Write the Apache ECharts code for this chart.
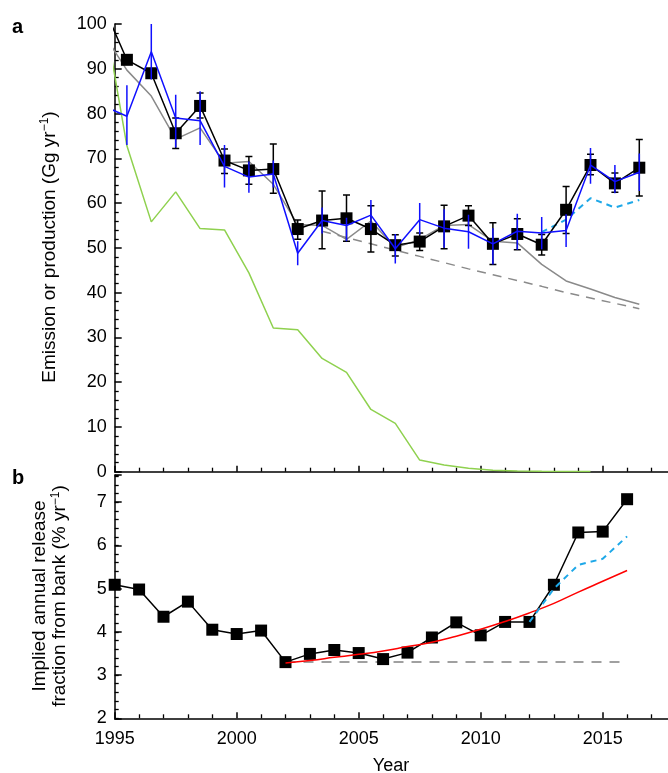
<!DOCTYPE html>
<html><head><meta charset="utf-8">
<script src="https://cdn.jsdelivr.net/npm/echarts@6/dist/echarts.min.js"></script>
<style>html,body{margin:0;padding:0;background:#fff}#c{width:668px;height:773px}</style>
</head><body><div id="c"></div>
<script>
// ---------- Panel a data (mid-year points) ----------
const yearsA = [1994.5,1995.5,1996.5,1997.5,1998.5,1999.5,2000.5,2001.5,2002.5,2003.5,2004.5,2005.5,2006.5,2007.5,2008.5,2009.5,2010.5,2011.5,2012.5,2013.5,2014.5,2015.5,2016.5];
const emissionBlack = [104.4,92,89,75.6,81.7,69.5,67.3,67.6,54.2,56.1,56.6,54.2,50.6,51.4,54.8,57.2,50.9,53.1,50.7,58.5,68.5,64.4,67.9];
const blackLow  = [null,null,null,72.2,79,66.6,64.2,62.2,51.9,49.8,51.5,49.1,48.2,49.4,49.8,55.0,46.3,49.6,48.4,53.2,66.3,62.4,61.6];
const blackHigh = [null,null,null,79,84.6,72.1,70.4,73.2,56.2,62.7,61.8,59.4,52.9,53.3,59.5,59.4,55.6,56.5,53.0,63.7,70.9,66.7,74.2];
const emissionBlue = [81.8,79.4,93.8,79.0,78.4,68.2,65.8,66.5,48.8,56.1,55.0,57.3,49.8,56.3,54.4,53.6,50.9,53.7,53.3,53.9,68.5,64.8,66.9];
const blueLow  = [null,73,87.6,72.4,73,63.5,62.3,63.5,46.1,53.2,51.5,53.9,46.5,53,50,49.8,46.3,49.6,49.7,50.2,64.3,62.2,62.7];
const blueHigh = [null,86.3,100,84.2,85,73,69.3,69.5,51.5,59,56.7,60.7,53.1,60,58.6,57.4,54.4,57.6,56.9,57.5,72.3,68.5,71.1];
const emissionGray = [98.1,89.7,83.9,74.3,76.8,68.9,69.3,64.2,55.2,55.0,51.9,56.0,50.0,51.9,55.0,55.2,51.5,51.1,46.3,42.6,40.8,38.9,37.4];
const production = [104.2,72.8,55.8,62.5,54.3,54.0,44.4,32.1,31.7,25.3,22.2,13.9,10.8,2.6,1.5,0.75,0.35,0.15,0.08,0.04,0.02,null,null];
const yearsGrayDash = [2003.5,2004.5,2005.5,2006.5,2007.5,2008.5,2009.5,2010.5,2011.5,2012.5,2013.5,2014.5,2015.5,2016.5];
const grayDash = [53.7,52.3,50.9,49.5,48.1,46.7,45.3,44.0,42.7,41.4,40.0,38.8,37.6,36.4];
const yearsCyanA = [2012.5,2013.5,2014.5,2015.5,2016.5];
const cyanA = [53.5,56.3,61.1,59.0,60.7];

// ---------- Panel b data ----------
const yearsB = [1995,1996,1997,1998,1999,2000,2001,2002,2003,2004,2005,2006,2007,2008,2009,2010,2011,2012,2013,2014,2015,2016];
const releaseB = [5.09,4.98,4.35,4.70,4.05,3.95,4.03,3.30,3.49,3.58,3.51,3.37,3.52,3.87,4.22,3.92,4.23,4.23,5.09,6.30,6.32,7.07];
const yearsFit = [2002,2003,2004,2005,2006,2007,2008,2009,2010,2011,2012,2013,2014,2015,2016];
const redFit = [3.28,3.34,3.41,3.48,3.56,3.66,3.76,3.90,4.06,4.24,4.44,4.66,4.92,5.17,5.42];
const grayConst = [3.30,3.30,3.30,3.30,3.30,3.30,3.30,3.30,3.30,3.30,3.30,3.30,3.30,3.30,3.30];
const yearsCyanB = [2012,2013,2014,2015,2016];
const cyanB = [4.23,5.0,5.55,5.69,6.21];

// ---------- tick labels ----------
const yTicksB = [2,3,4,5,6,7];

const FONT = 'Liberation Sans, Arial, Helvetica, sans-serif';
const zip = (xs, ys) => xs.map((x, i) => [x, ys[i]]).filter(d => d[1] != null);
const errData = (xs, lo, hi) => xs.map((x, i) => [x, lo[i], hi[i]]).filter(d => d[1] != null);

function errRender(capHalf, color) {
  return function (params, api) {
    const x = api.value(0), lo = api.value(1), hi = api.value(2);
    const p1 = api.coord([x, lo]), p2 = api.coord([x, hi]);
    const st = { stroke: color, lineWidth: 1.5 };
    const ch = [{ type: 'line', shape: { x1: p1[0], y1: p1[1], x2: p2[0], y2: p2[1] }, style: st }];
    if (capHalf) {
      ch.push({ type: 'line', shape: { x1: p1[0] - capHalf, y1: p1[1], x2: p1[0] + capHalf, y2: p1[1] }, style: st });
      ch.push({ type: 'line', shape: { x1: p2[0] - capHalf, y1: p2[1], x2: p2[0] + capHalf, y2: p2[1] }, style: st });
    }
    return { type: 'group', children: ch };
  };
}

const axisLineStyle = { color: '#000', width: 1.5 };
const xBase = (gi, showLabel) => ({
  type: 'value', gridIndex: gi, min: 1995, max: 2020, interval: 5,
  axisLine: { show: true, onZero: false, lineStyle: axisLineStyle },
  axisTick: { show: true, inside: true, length: 6, lineStyle: { color: '#000', width: 1.5 } },
  minorTick: { show: true, splitNumber: 5, length: 4, lineStyle: { color: '#000', width: 1.3 } },
  axisLabel: { show: showLabel, fontSize: 18, margin: 12, color: '#000', fontFamily: FONT,
    formatter: v => String(v) },
  splitLine: { show: false }
});

const chart = echarts.init(document.getElementById('c'), null, { renderer: 'canvas' });
chart.setOption({
  animation: false,
  backgroundColor: '#fff',
  grid: [
    { left: 114.7, width: 610, top: 24, height: 447.7, containLabel: false, outerBoundsMode: 'none' },
    { left: 114.7, width: 610, top: 475, height: 243.3, containLabel: false, outerBoundsMode: 'none' }
  ],
  xAxis: [xBase(0, false), xBase(1, true)],
  yAxis: [
    { type: 'value', gridIndex: 0, min: 0, max: 100, interval: 10, position: 'left',
      axisLine: { show: true, onZero: false, lineStyle: axisLineStyle },
      axisTick: { show: true, inside: true, length: 7, lineStyle: { color: '#000', width: 1.5 } },
      minorTick: { show: true, splitNumber: 5, length: 4, lineStyle: { color: '#000', width: 1.3 } },
      axisLabel: { fontSize: 18, margin: 8, color: '#000', fontFamily: FONT, formatter: v => String(v) },
      splitLine: { show: false } },
    { type: 'value', gridIndex: 1, min: 2, max: 7.63, interval: 1, position: 'left',
      axisLine: { show: true, onZero: false, lineStyle: axisLineStyle },
      axisTick: { show: true, inside: true, length: 7, lineStyle: { color: '#000', width: 1.5 } },
      axisLabel: { fontSize: 18, margin: 8, color: '#000', fontFamily: FONT,
        formatter: v => (yTicksB.indexOf(Math.round(v * 100) / 100) >= 0 ? String(v) : '') },
      splitLine: { show: false } },
    { type: 'value', gridIndex: 1, min: 2, max: 7.63, interval: 0.2, position: 'left',
      axisLine: { show: false },
      axisTick: { show: true, inside: true, length: 4, lineStyle: { color: '#000', width: 1.3 } },
      axisLabel: { show: false },
      splitLine: { show: false } }
  ],
  series: [
    { type: 'line', xAxisIndex: 0, yAxisIndex: 0, data: zip(yearsA, production), symbol: 'none', clip: true,
      lineStyle: { color: '#8fd14f', width: 1.5 }, z: 2 },
    { type: 'line', xAxisIndex: 0, yAxisIndex: 0, data: zip(yearsA, emissionGray), symbol: 'none', clip: true,
      lineStyle: { color: '#8a8a8a', width: 1.5 }, z: 3 },
    { type: 'line', xAxisIndex: 0, yAxisIndex: 0, data: zip(yearsGrayDash, grayDash), symbol: 'none', clip: true,
      lineStyle: { color: '#8a8a8a', width: 1.5, type: [9, 7] }, z: 3 },
    { type: 'line', xAxisIndex: 0, yAxisIndex: 0, data: zip(yearsCyanA, cyanA), symbol: 'none', clip: true,
      lineStyle: { color: '#1ea8e8', width: 2, type: [6, 5] }, z: 4 },
    { type: 'custom', xAxisIndex: 0, yAxisIndex: 0, data: errData(yearsA, blackLow, blackHigh), clip: true,
      renderItem: errRender(3.5, '#000'), z: 5 },
    { type: 'line', xAxisIndex: 0, yAxisIndex: 0, clip: true, showAllSymbol: true,
      data: zip(yearsA, emissionBlack).map((d, i) => i === 0 ? { value: d, symbol: 'none' } : { value: d }),
      symbol: 'rect', symbolSize: 12, itemStyle: { color: '#000' },
      lineStyle: { color: '#000', width: 1.5 }, z: 6 },
    { type: 'line', xAxisIndex: 0, yAxisIndex: 0, data: zip(yearsA, emissionBlue), symbol: 'none', clip: true,
      lineStyle: { color: '#1010ff', width: 1.5 }, z: 7 },
    { type: 'custom', xAxisIndex: 0, yAxisIndex: 0, data: errData(yearsA, blueLow, blueHigh), clip: true,
      renderItem: errRender(0, '#1010ff'), z: 7 },

    { type: 'line', xAxisIndex: 1, yAxisIndex: 1, data: zip(yearsFit, grayConst), symbol: 'none', clip: true,
      lineStyle: { color: '#a0a0a0', width: 2, type: [10, 8] }, z: 2 },
    { type: 'line', xAxisIndex: 1, yAxisIndex: 1, clip: true, showAllSymbol: true,
      data: zip(yearsB, releaseB), symbol: 'rect', symbolSize: 12, itemStyle: { color: '#000' },
      lineStyle: { color: '#000', width: 1.5 }, z: 3 },
    { type: 'line', xAxisIndex: 1, yAxisIndex: 1, data: zip(yearsFit, redFit), symbol: 'none', clip: true,
      smooth: true, lineStyle: { color: '#ff0000', width: 1.5 }, z: 4 },
    { type: 'line', xAxisIndex: 1, yAxisIndex: 1, data: zip(yearsCyanB, cyanB), symbol: 'none', clip: true,
      lineStyle: { color: '#1ea8e8', width: 2, type: [6, 5] }, z: 5 }
  ],
  graphic: [
    { type: 'text', x: 17.5, y: 27, style: { text: 'a', font: 'bold 20px ' + FONT, fill: '#000',
        align: 'center', verticalAlign: 'middle', textAlign: 'center', textVerticalAlign: 'middle' } },
    { type: 'text', x: 18, y: 478, style: { text: 'b', font: 'bold 20px ' + FONT, fill: '#000',
        align: 'center', verticalAlign: 'middle', textAlign: 'center', textVerticalAlign: 'middle' } },
    { type: 'text', x: 49.5, y: 247, rotation: Math.PI / 2,
      style: { text: '{t|Emission or production (Gg yr}{s|−1}{t|)}',
        rich: { t: { fontSize: 19, fontFamily: FONT, fill: '#000', lineHeight: 22 },
                s: { fontSize: 12, fontFamily: FONT, fill: '#000', verticalAlign: 'top' } },
        align: 'center', verticalAlign: 'middle', textAlign: 'center', textVerticalAlign: 'middle' } },
    { type: 'text', x: 49.5, y: 596, rotation: Math.PI / 2,
      style: { text: '{t|Implied annual release}\n{t|fraction from bank (% yr}{s|−1}{t|)}',
        rich: { t: { fontSize: 19, fontFamily: FONT, fill: '#000', lineHeight: 20 },
                s: { fontSize: 12, fontFamily: FONT, fill: '#000', verticalAlign: 'top' } },
        align: 'center', verticalAlign: 'middle', textAlign: 'center', textVerticalAlign: 'middle' } },
    { type: 'text', x: 391, y: 766, style: { text: 'Year', font: '18px ' + FONT, fill: '#000',
        align: 'center', verticalAlign: 'middle', textAlign: 'center', textVerticalAlign: 'middle' } }
  ]
});
</script></body></html>
